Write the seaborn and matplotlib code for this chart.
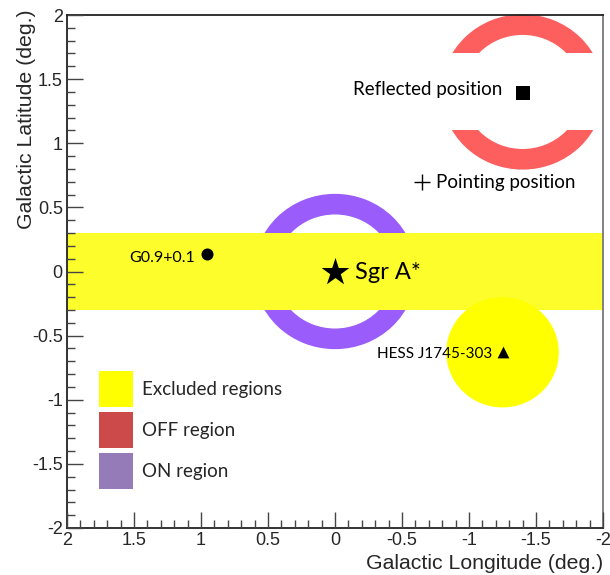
import numpy as np
import pandas as pd
import matplotlib
matplotlib.use('Agg')
import matplotlib.pyplot as plt
import seaborn as sns
from matplotlib.patches import Annulus, Ellipse, Rectangle, Patch
from matplotlib.ticker import MultipleLocator

# --- data (degrees) ---
x_ticks = [2, 1.5, 1, 0.5, 0, -0.5, -1, -1.5, -2]
x_ticklabels = ['2', '1.5', '1', '0.5', '0', '-0.5', '-1', '-1.5', '-2']
y_ticks = [-2, -1.5, -1, -0.5, 0, 0.5, 1, 1.5, 2]
y_ticklabels = ['-2', '-1.5', '-1', '-0.5', '0', '0.5', '1', '1.5', '2']

band_b = [-0.3, 0.3]                 # excluded galactic plane strip
on_center = (0.0, 0.0)               # ON ring around Sgr A*
off_center = (-1.4, 1.4)             # OFF ring around reflected position
ring_radius = 0.6
ring_width = 0.15
off_cut = 0.3                        # OFF ring removed within +-0.3 of centre
hess_center = (-1.25, -0.63)
hess_size = (0.84, 0.86)

src_names = ['Sgr A*', 'G0.9+0.1', 'HESS J1745-303', 'Reflected position', 'Pointing position']
src_l = [0.0, 0.955, -1.25, -1.40, -0.65]
src_b = [0.0, 0.136, -0.63, 1.39, 0.70]
src_marker = ['*', 'o', '^', 's', '+']
src_size = [441, 75, 72, 90, 121]

label_x = [-0.15, 1.045, -1.17, -1.25, -0.755]
label_y = [-0.058, 0.074, -0.674, 1.376, 0.651]
label_ha = ['left', 'right', 'right', 'right', 'left']
label_fs = [17, 11.5, 11, 13.5, 13.5]

legend_names = ['Excluded regions', 'OFF region', 'ON region']
legend_colors = ['#ffff00', '#cd4a4a', '#957bb7']

sns.set_style('ticks')
plt.rcParams['font.family'] = ['Lato', 'DejaVu Sans']

fig = plt.figure(figsize=(6.1, 5.75), dpi=100)
ax = fig.add_axes([67 / 610, 47 / 575, 536 / 610, 513 / 575])

# ON ring (under the band)
ax.add_patch(Annulus(on_center, ring_radius, ring_width, color='#9a5cfa', zorder=1))

# excluded band
ax.axhspan(band_b[0], band_b[1], color='#fdfd2c', zorder=2, lw=0)
ax.add_patch(Ellipse(hess_center, hess_size[0], hess_size[1], color='#ffff00', zorder=2, lw=0))

# OFF ring, two arcs
for lo, hi in [(off_center[1] + off_cut, 3), (-3, off_center[1] - off_cut)]:
    arc = Annulus(off_center, ring_radius, ring_width, color='#fd5f5f', zorder=2)
    ax.add_patch(arc)
    clip = Rectangle((-3, lo), 6, hi - lo, transform=ax.transData)
    arc.set_clip_path(clip)

# source markers
for i in range(len(src_names)):
    d = pd.DataFrame({'l': [src_l[i]], 'b': [src_b[i]]})
    if src_marker[i] == '+':
        sns.scatterplot(data=d, x='l', y='b', marker='+', s=src_size[i], color='black',
                        linewidth=1.0, ax=ax, zorder=5, legend=False)
    else:
        sns.scatterplot(data=d, x='l', y='b', marker=src_marker[i], s=src_size[i], color='black',
                        edgecolor='black', linewidth=0, ax=ax, zorder=5, legend=False)
    ax.text(label_x[i], label_y[i], src_names[i], ha=label_ha[i], va='baseline',
            fontsize=label_fs[i], color='black', zorder=6)

ax.set_xlim(2, -2)
ax.set_ylim(-2, 2)

ax.set_xlabel('Galactic Longitude (deg.)', loc='right', fontsize=15.3, family='Liberation Sans')
ax.set_ylabel('Galactic Latitude (deg.)', loc='top', fontsize=15.3, family='Liberation Sans')
ax.xaxis.set_label_coords(1.0, -0.05)
ax.yaxis.set_label_coords(-0.058, 1.01)

for side in ['left', 'bottom', 'top']:
    ax.spines[side].set_color('#222222')
    ax.spines[side].set_linewidth(1.3)
ax.spines['right'].set_color('#777777')
ax.spines['right'].set_linewidth(1.3)

handles = [Patch(facecolor=c, edgecolor='none') for c in legend_colors]
ax.legend(handles, legend_names, loc='upper left', bbox_to_anchor=(0.0597, 0.306),
          frameon=False, fontsize=13.5, borderpad=0, borderaxespad=0,
          handlelength=1.81, handleheight=2.577, labelspacing=0.27, handletextpad=0.48)

# ticks last, axis drawn above the patches
ax.set_axisbelow(False)
ax.set_xticks(x_ticks, labels=x_ticklabels)
ax.set_yticks(y_ticks, labels=y_ticklabels)
ax.xaxis.set_minor_locator(MultipleLocator(0.1))
ax.yaxis.set_minor_locator(MultipleLocator(0.1))
ax.tick_params(which='both', direction='in', bottom=True, left=True, top=False, right=False,
               color='#444444', labelsize=13, pad=3, labelfontfamily='Liberation Sans')
ax.tick_params(which='major', length=11.5, width=1.0)
ax.tick_params(which='minor', length=5.5, width=1.0)

fig.savefig('out.png', dpi=100)
